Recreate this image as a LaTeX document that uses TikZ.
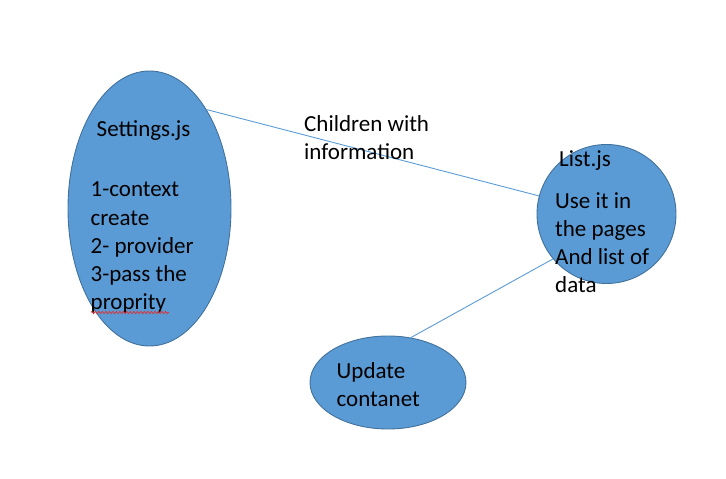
\documentclass[tikz,border=0pt]{standalone}
\usepackage{fontspec}
\setmainfont{Carlito}
\usetikzlibrary{shapes.geometric,decorations.pathmorphing}
\definecolor{ofill}{HTML}{5B9BD5}
\definecolor{oedge}{HTML}{41719C}
\definecolor{oline}{HTML}{5B9BD5}
\definecolor{spell}{HTML}{E03030}
\tikzset{
  blob/.style={ellipse, draw=oedge, fill=ofill, line width=0.9pt, inner sep=0pt},
  conn/.style={draw=oline, line width=0.9pt},
  txt/.style={anchor=base west, inner sep=0pt, font=\fontsize{23}{28}\selectfont},
}
\begin{document}
\begin{tikzpicture}[x=1pt,y=-1pt]
\useasboundingbox (0,0) rectangle (726,479);
\node[blob, minimum width=163pt, minimum height=275pt] (set) at (149.5,208.5) {};
\node[blob, minimum width=139pt, minimum height=139pt] (lst) at (606.5,214) {};
\node[blob, minimum width=156pt, minimum height=93pt] (upd) at (388,382.5) {};
\draw[conn] (set.60) -- (lst.165);
\draw[conn] (upd.63) -- (lst.220);
\node[txt] (settitle) at (96.5,136) {Settings.js};
\node[txt] (set1) at (90.5,196.5) {1-context};
\node[txt] (set2) at (90.5,225) {create};
\node[txt] (set3) at (90.5,253.3) {2- provider};
\node[txt] (set4) at (90.5,281.6) {3-pass the};
\node[txt] (set5) at (90.5,309.5) {proprity};
\node[txt] (lsttitle) at (559,166.5) {List.js};
\node[txt] (lst1) at (555,208.5) {Use it in};
\node[txt] (lst2) at (555,236.5) {the pages};
\node[txt] (lst3) at (555,264.5) {And list of};
\node[txt] (lst4) at (555,292.5) {data};
\node[txt] (upd1) at (336.5,378.5) {Update};
\node[txt] (upd2) at (336.5,406.5) {contanet};
\node[txt] (edge1) at (304,131.5) {Children with};
\node[txt] (edge2) at (304,159) {information};
\coordinate (sq1) at (91,312.5);
\coordinate (sq2) at (169,312.5);
\draw[spell, line width=0.7pt, decorate, decoration={zigzag, amplitude=1.2pt, segment length=3.5pt}] (sq1) -- (sq2);
\end{tikzpicture}
\end{document}
